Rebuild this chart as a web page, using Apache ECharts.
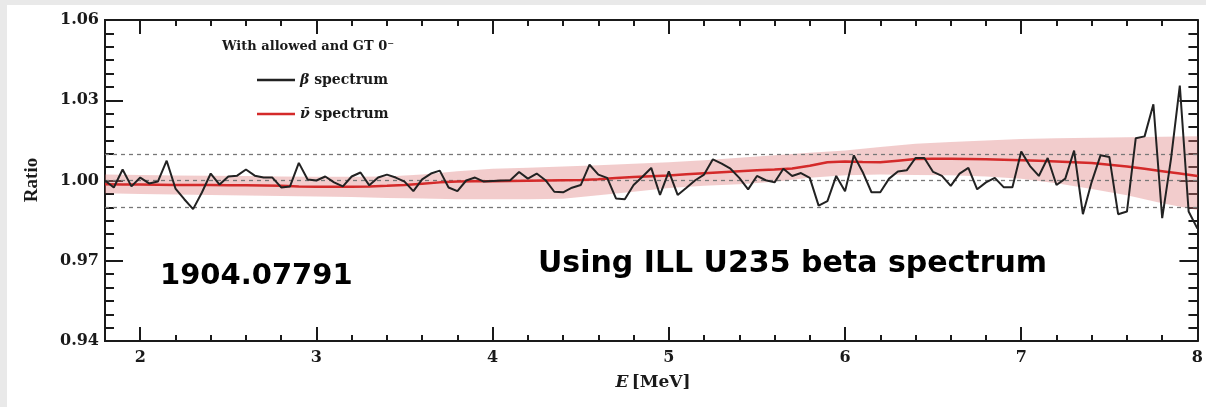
<!DOCTYPE html>
<html>
<head>
<meta charset="utf-8">
<script src="https://cdn.jsdelivr.net/npm/echarts@6/dist/echarts.min.js"></script>
<style>
html, body { margin: 0; padding: 0; background: #e9e9e9; }
#chart { position: absolute; left: 7px; top: 5px; width: 1199px; height: 402px; background: #fff; }
</style>
</head>
<body>
<div id="chart"></div>
<script>
// beta spectrum ratio, one point every 0.05 MeV from 1.80 MeV
var betaStart = 1.8, betaStep = 0.05;
var betaRatio = [
  1.0000, 0.9974, 1.0041, 0.9978, 1.0011, 0.9989, 0.9996, 1.0074, 0.9970, 0.9930,
  0.9893, 0.9955, 1.0026, 0.9985, 1.0015, 1.0018, 1.0041, 1.0018, 1.0011, 1.0011,
  0.9974, 0.9978, 1.0066, 1.0004, 1.0000, 1.0015, 0.9993, 0.9978, 1.0015, 1.0030,
  0.9982, 1.0011, 1.0022, 1.0011, 0.9996, 0.9960, 1.0004, 1.0026, 1.0037, 0.9974,
  0.9960, 1.0000, 1.0011, 0.9996, 0.9998, 1.0000, 1.0001, 1.0032, 1.0007, 1.0026,
  1.0001, 0.9958, 0.9956, 0.9973, 0.9983, 1.0059, 1.0022, 1.0010, 0.9933, 0.9930,
  0.9983, 1.0014, 1.0047, 0.9946, 1.0034, 0.9946, 0.9973, 1.0001, 1.0022, 1.0079,
  1.0063, 1.0044, 1.0010, 0.9967, 1.0017, 1.0001, 0.9993, 1.0044, 1.0017, 1.0028,
  1.0010, 0.9906, 0.9923, 1.0017, 0.9960, 1.0094, 1.0032, 0.9956, 0.9956, 1.0007,
  1.0034, 1.0038, 1.0084, 1.0084, 1.0032, 1.0017, 0.9980, 1.0026, 1.0047, 0.9967,
  0.9993, 1.0010, 0.9975, 0.9975, 1.0108, 1.0054, 1.0017, 1.0084, 0.9983, 1.0007,
  1.0112, 0.9874, 0.9995, 1.0094, 1.0088, 0.9874, 0.9884, 1.0158, 1.0165, 1.0285,
  0.9859, 1.0081, 1.0355, 0.9884, 0.9820
];

// antineutrino spectrum ratio (red line)
var nuE = [
  1.8, 1.9, 2.0, 2.1, 2.2, 2.3, 2.4, 2.5, 2.6, 2.7, 2.8, 2.9, 3.0, 3.1, 3.2, 3.3,
  3.4, 3.5, 3.6, 3.7, 3.8, 3.9, 4.0, 4.1, 4.2, 4.3, 4.4, 4.5, 4.6, 4.7, 4.8, 4.9,
  5.0, 5.1, 5.2, 5.3, 5.4, 5.5, 5.6, 5.7, 5.8, 5.9, 6.0, 6.1, 6.2, 6.3, 6.4, 6.5,
  6.6, 6.7, 6.8, 6.9, 7.0, 7.1, 7.2, 7.3, 7.4, 7.5, 7.6, 7.7, 7.8, 7.9, 8.0
];
var nuRatio = [
  0.9986, 0.9985, 0.9985, 0.9984, 0.9983, 0.9983, 0.9983, 0.9982, 0.9982, 0.9981,
  0.9980, 0.9978, 0.9977, 0.9977, 0.9977, 0.9978, 0.9980, 0.9983, 0.9988, 0.9993,
  0.9996, 0.9997, 0.9997, 0.9998, 0.9999, 1.0000, 1.0001, 1.0002, 1.0005, 1.0009,
  1.0013, 1.0016, 1.0019, 1.0023, 1.0027, 1.0031, 1.0035, 1.0038, 1.0041, 1.0045,
  1.0055, 1.0068, 1.0071, 1.0069, 1.0068, 1.0074, 1.0080, 1.0081, 1.0081, 1.0080,
  1.0079, 1.0078, 1.0076, 1.0074, 1.0071, 1.0068, 1.0065, 1.0059, 1.0052, 1.0044,
  1.0035, 1.0026, 1.0017
];

// uncertainty band of the antineutrino ratio
var bandE = [
  1.8, 2.0, 2.2, 2.4, 2.6, 2.8, 3.0, 3.2, 3.4, 3.6, 3.8, 4.0, 4.2, 4.4, 4.6, 4.8,
  5.0, 5.2, 5.4, 5.6, 5.8, 6.0, 6.2, 6.4, 6.6, 6.8, 7.0, 7.2, 7.4, 7.6, 7.8, 8.0
];
var bandLow = [
  0.9952, 0.9950, 0.9948, 0.9946, 0.9944, 0.9942, 0.9940, 0.9938, 0.9935, 0.9933,
  0.9930, 0.9930, 0.9930, 0.9932, 0.9945, 0.9958, 0.9972, 0.9980, 0.9986, 0.9995,
  1.0010, 1.0020, 1.0022, 1.0021, 1.0020, 1.0015, 1.0007, 0.9990, 0.9968, 0.9945,
  0.9915, 0.9890
];
var bandHigh = [
  1.0022, 1.0021, 1.0019, 1.0018, 1.0017, 1.0015, 1.0014, 1.0014, 1.0015, 1.0022,
  1.0035, 1.0044, 1.0048, 1.0052, 1.0057, 1.0063, 1.0068, 1.0076, 1.0085, 1.0094,
  1.0104, 1.0112, 1.0125, 1.0137, 1.0144, 1.0150, 1.0155, 1.0158, 1.0160, 1.0162,
  1.0164, 1.0165
];

var xMajorTicks = [2, 3, 4, 5, 6, 7, 8];
var xMinorTicks = [2.2, 2.4, 2.6, 2.8, 3.2, 3.4, 3.6, 3.8, 4.2, 4.4, 4.6, 4.8,
  5.2, 5.4, 5.6, 5.8, 6.2, 6.4, 6.6, 6.8, 7.2, 7.4, 7.6, 7.8];
var refLevels = [0.99, 1.00, 1.01];

var ink = '#1a1a1a';
var serif = 'DejaVu Serif';

var betaData = betaRatio.map(function (v, i) { return [betaStart + i * betaStep, v]; });
var nuData = nuE.map(function (e, i) { return [e, nuRatio[i]]; });
var bandData = bandE.map(function (e, i) { return [e, bandLow[i], bandHigh[i]]; });

function xAxisOf(pos, ticks, len, labels) {
  return {
    type: 'value', position: pos, min: 1.8, max: 8,
    axisLine: { show: true, onZero: false, lineStyle: { color: ink, width: 2 } },
    axisTick: { show: true, inside: true, length: len, customValues: ticks, lineStyle: { color: ink, width: 2 } },
    axisLabel: labels ? {
      show: true, customValues: ticks, margin: 9, color: ink,
      fontFamily: serif, fontWeight: 'bold', fontSize: 16
    } : { show: false },
    splitLine: { show: false }
  };
}

function yAxisOf(pos, labels) {
  return {
    type: 'value', position: pos, min: 0.94, max: 1.06, interval: 0.03,
    axisLine: { show: true, onZero: false, lineStyle: { color: ink, width: 2 } },
    axisTick: { show: true, inside: true, length: 18, lineStyle: { color: ink, width: 2 } },
    minorTick: { show: true, splitNumber: 6, length: 9, lineStyle: { color: ink, width: 2 } },
    axisLabel: labels ? {
      show: true, margin: 6, color: ink, fontFamily: serif, fontWeight: 'bold', fontSize: 16,
      formatter: function (v) { return v.toFixed(2); }
    } : { show: false },
    splitLine: { show: false }
  };
}

// band drawn as one polygon: upper edge left->right, lower edge right->left
function renderBand(params, api) {
  if (params.dataIndex !== 0) return null;
  var pts = [];
  for (var i = 0; i < bandE.length; i++) pts.push(api.coord([bandE[i], bandHigh[i]]));
  for (var j = bandE.length - 1; j >= 0; j--) pts.push(api.coord([bandE[j], bandLow[j]]));
  return {
    type: 'polygon',
    shape: { points: pts },
    style: { fill: 'rgba(222,120,120,0.38)' }
  };
}

var chart = echarts.init(document.getElementById('chart'));
chart.setOption({
  animation: false,
  grid: { left: 98, right: 7.5, top: 15, bottom: 66 },
  xAxis: [
    xAxisOf('bottom', xMajorTicks, 14, true),
    xAxisOf('bottom', xMinorTicks, 6, false),
    xAxisOf('top', xMajorTicks, 14, false),
    xAxisOf('top', xMinorTicks, 6, false)
  ],
  yAxis: [yAxisOf('left', true), yAxisOf('right', false)],
  legend: {
    orient: 'vertical', left: 245, top: 63, itemWidth: 38, itemHeight: 2.5, itemGap: 20,
    icon: 'rect', selectedMode: false,
    data: ['beta', 'nu'],
    textStyle: {
      color: ink, fontFamily: serif, fontWeight: 'bold', fontSize: 14,
      rich: {
        i: { color: ink, fontFamily: serif, fontWeight: 'bold', fontStyle: 'italic', fontSize: 14, lineHeight: 17 },
        t: { color: ink, fontFamily: serif, fontWeight: 'bold', fontSize: 14, lineHeight: 17 }
      }
    },
    formatter: function (name) {
      return name === 'beta' ? '{i|β}{t| spectrum}' : '{i|ν̄}{t| spectrum}';
    }
  },
  graphic: [
    { type: 'text', style: { x: 215, y: 42, text: 'With allowed and GT 0⁻', fill: ink,
      font: 'bold 13px "DejaVu Serif"', textVerticalAlign: 'middle' } },
    { type: 'text', style: { x: 153, y: 271, text: '1904.07791', fill: '#000',
      font: 'bold 29px "DejaVu Sans"', textVerticalAlign: 'middle' } },
    { type: 'text', style: { x: 531, y: 259, text: 'Using ILL U235 beta spectrum', fill: '#000',
      font: 'bold 30px "DejaVu Sans"', textVerticalAlign: 'middle' } },
    { type: 'text', x: 25, y: 175, rotation: Math.PI / 2,
      style: { x: 0, y: 0, text: 'Ratio', fill: ink, font: 'bold 19px "Liberation Serif"',
        textAlign: 'center', textVerticalAlign: 'middle' } },
    { type: 'text', style: { x: 646, y: 378, text: '{i|E} {t|[MeV]}', fill: ink,
      textAlign: 'center', textVerticalAlign: 'middle',
      rich: {
        i: { fontFamily: serif, fontWeight: 'bold', fontStyle: 'italic', fontSize: 17, fill: ink },
        t: { fontFamily: serif, fontWeight: 'bold', fontSize: 17, fill: ink }
      } } }
  ],
  series: [
    {
      name: 'band', type: 'custom', data: bandData, renderItem: renderBand,
      encode: { x: 0, y: [1, 2] }, silent: true, z: 1, clip: true
    },
    {
      name: 'nu', type: 'line', data: nuData, symbol: 'none', showSymbol: false, z: 3,
      lineStyle: { color: '#d42a2a', width: 2.5 }, itemStyle: { color: '#d42a2a' },
      markLine: {
        silent: true, symbol: 'none', label: { show: false }, z: 2,
        lineStyle: { color: '#777', width: 1.3, type: [4, 4] },
        data: refLevels.map(function (v) { return { yAxis: v }; })
      }
    },
    {
      name: 'beta', type: 'line', data: betaData, symbol: 'none', showSymbol: false, z: 4,
      lineStyle: { color: '#222', width: 2 }, itemStyle: { color: '#222' }
    }
  ]
});
</script>
</body>
</html>
